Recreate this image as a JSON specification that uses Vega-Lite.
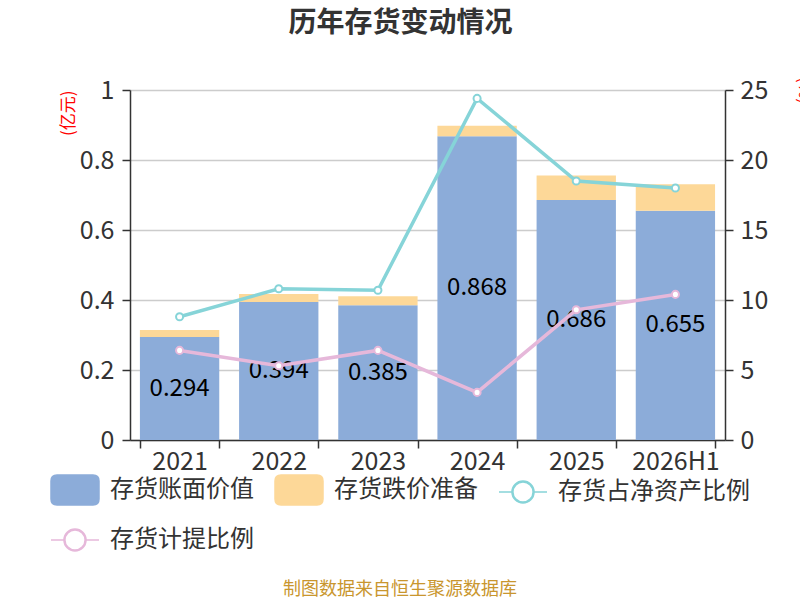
{
  "$schema": "https://vega.github.io/schema/vega-lite/v6.json",
  "autosize": "none",
  "width": 595,
  "height": 350,
  "padding": {"left": 130, "top": 90, "right": 75, "bottom": 160},
  "background": "white",
  "title": {
    "text": "历年存货变动情况",
    "font": "Noto Sans CJK SC",
    "fontSize": 28,
    "fontWeight": "bold",
    "color": "#333333",
    "anchor": "middle",
    "dx": -27,
    "offset": 38
  },
  "config": {
    "font": "Noto Sans CJK SC",
    "view": {"stroke": null},
    "axis": {
      "labelFont": "Noto Sans CJK SC",
      "titleFont": "Noto Sans CJK SC",
      "labelColor": "#333333",
      "labelFontSize": 25,
      "domainColor": "#333333",
      "domainWidth": 1.5,
      "tickColor": "#333333",
      "tickWidth": 1.5,
      "tickSize": 8
    }
  },
  "data": {
    "values": [
      {"year": "2021", "series": "存货账面价值", "value": 0.294},
      {"year": "2022", "series": "存货账面价值", "value": 0.394},
      {"year": "2023", "series": "存货账面价值", "value": 0.385},
      {"year": "2024", "series": "存货账面价值", "value": 0.868},
      {"year": "2025", "series": "存货账面价值", "value": 0.686},
      {"year": "2026H1", "series": "存货账面价值", "value": 0.655},
      {"year": "2021", "series": "存货跌价准备", "value": 0.020},
      {"year": "2022", "series": "存货跌价准备", "value": 0.023},
      {"year": "2023", "series": "存货跌价准备", "value": 0.026},
      {"year": "2024", "series": "存货跌价准备", "value": 0.030},
      {"year": "2025", "series": "存货跌价准备", "value": 0.070},
      {"year": "2026H1", "series": "存货跌价准备", "value": 0.076},
      {"year": "2021", "series": "存货占净资产比例", "value": 8.8},
      {"year": "2022", "series": "存货占净资产比例", "value": 10.8},
      {"year": "2023", "series": "存货占净资产比例", "value": 10.7},
      {"year": "2024", "series": "存货占净资产比例", "value": 24.4},
      {"year": "2025", "series": "存货占净资产比例", "value": 18.5},
      {"year": "2026H1", "series": "存货占净资产比例", "value": 18.0},
      {"year": "2021", "series": "存货计提比例", "value": 6.4},
      {"year": "2022", "series": "存货计提比例", "value": 5.3},
      {"year": "2023", "series": "存货计提比例", "value": 6.4},
      {"year": "2024", "series": "存货计提比例", "value": 3.4},
      {"year": "2025", "series": "存货计提比例", "value": 9.3},
      {"year": "2026H1", "series": "存货计提比例", "value": 10.4}
    ]
  },
  "encoding": {
    "x": {
      "field": "year",
      "type": "nominal",
      "title": null,
      "scale": {"paddingInner": 0.2, "paddingOuter": 0.1},
      "axis": {"labelAngle": 0, "tickBand": "extent", "labelPadding": 1, "labelOverlap": false}
    }
  },
  "layer": [
    {
      "transform": [{"filter": "datum.series == '存货账面价值' || datum.series == '存货跌价准备'"}],
      "mark": {"type": "bar"},
      "encoding": {
        "y": {
          "field": "value",
          "type": "quantitative",
          "stack": "zero",
          "scale": {"domain": [0, 1]},
          "axis": {
            "values": [0, 0.2, 0.4, 0.6, 0.8, 1],
            "format": "~g",
            "grid": true,
            "gridColor": "#cccccc",
            "gridWidth": 1.5,
            "labelPadding": 8,
            "title": "(亿元)",
            "titleColor": "#ff0000",
            "titleFontSize": 17,
            "titleFontWeight": "normal",
            "titleAnchor": "end",
            "titlePadding": 2
          }
        },
        "order": {"field": "series", "sort": "ascending"},
        "color": {
          "field": "series",
          "type": "nominal",
          "scale": {
            "domain": ["存货账面价值", "存货跌价准备", "存货占净资产比例", "存货计提比例"],
            "range": ["#8cacd9", "#fdd898", "#86d4d8", "#e6b8da"]
          },
          "legend": {
            "orient": "none",
            "legendX": -80,
            "legendY": 375,
            "direction": "horizontal",
            "columns": 3,
            "columnPadding": 18,
            "rowPadding": 7,
            "padding": 0,
            "symbolSize": 2304,
            "symbolStrokeWidth": 1.5,
            "labelFont": "Noto Sans CJK SC",
            "labelFontSize": 24,
            "labelColor": "#333333",
            "labelOffset": 10,
            "labelLimit": 400,
            "title": "制图数据来自恒生聚源数据库",
            "titleOrient": "bottom",
            "titleAnchor": "middle",
            "titleFont": "Noto Sans CJK SC",
            "titleFontSize": 18,
            "titleFontWeight": "normal",
            "titleColor": "#c9962e",
            "titlePadding": 27,
            "titleLimit": 800,
            "encode": {
              "symbols": {
                "update": {
                  "shape": {"signal": "datum.value == '存货账面价值' || datum.value == '存货跌价准备' ? 'M-0.75,-0.625L0.75,-0.625Q1,-0.625 1,-0.375L1,0.375Q1,0.625 0.75,0.625L-0.75,0.625Q-1,0.625 -1,0.375L-1,-0.375Q-1,-0.625 -0.75,-0.625Z' : 'M-1,0L-0.46,0M0.46,0L1,0M0.46,0A0.46,0.46 0 1 1 -0.46,0A0.46,0.46 0 1 1 0.46,0ZM0.42,0A0.42,0.42 0 1 0 -0.42,0A0.42,0.42 0 1 0 0.42,0Z'"}
                }
              }
            }
          }
        }
      }
    },
    {
      "transform": [{"filter": "datum.series == '存货账面价值'"}],
      "mark": {"type": "text", "fontSize": 24, "color": "#000000", "baseline": "middle"},
      "encoding": {
        "y": {
          "field": "value",
          "type": "quantitative",
          "scale": {"domain": [0, 2]},
          "axis": null
        },
        "text": {"field": "value", "type": "quantitative", "format": ".3f"}
      }
    },
    {
      "transform": [{"filter": "datum.series == '存货占净资产比例' || datum.series == '存货计提比例'"}],
      "mark": {
        "type": "line",
        "strokeWidth": 3.5,
        "point": {"filled": false, "fill": "#ffffff", "size": 50, "strokeWidth": 2}
      },
      "encoding": {
        "y": {
          "field": "value",
          "type": "quantitative",
          "scale": {"domain": [0, 25]},
          "axis": {
            "orient": "right",
            "values": [0, 5, 10, 15, 20, 25],
            "grid": false,
            "labelPadding": 7,
            "title": "(%)",
            "titleColor": "#ff0000",
            "titleFontSize": 17,
            "titleFontWeight": "normal",
            "titleAnchor": "end",
            "titleAlign": "center",
            "titlePadding": 27
          }
        },
        "color": {"field": "series", "type": "nominal"}
      }
    }
  ],
  "resolve": {"scale": {"y": "independent"}}
}
